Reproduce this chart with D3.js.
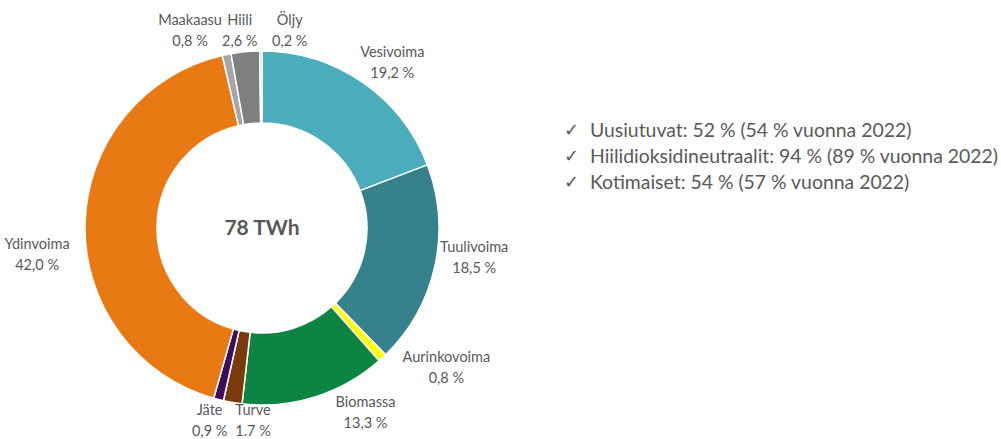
<!DOCTYPE html>
<html>
<head>
<meta charset="utf-8">
<script src="https://cdn.jsdelivr.net/npm/d3@7"></script>
<style>
  body { margin: 0; background: #fff; }
  text { font-family: Lato, "Open Sans", sans-serif; fill: #595959; }
</style>
</head>
<body>
<div id="chart"></div>
<script>
// energy sources, clockwise from top
var sources = ["Vesivoima", "Tuulivoima", "Aurinkovoima", "Biomassa", "Turve", "Jäte", "Ydinvoima", "Maakaasu", "Hiili", "Öljy"];
var shares = [19.2, 18.5, 0.8, 13.3, 1.7, 0.9, 42.0, 0.8, 2.6, 0.2];
// percent labels as printed (Turve uses a point in the original)
var shareLabels = ["19,2 %", "18,5 %", "0,8 %", "13,3 %", "1.7 %", "0,9 %", "42,0 %", "0,8 %", "2,6 %", "0,2 %"];
var colors = ["#4bacbb", "#35818c", "#ffff00", "#0e8444", "#7b3a0c", "#3f0d5a", "#e97912", "#a6a6a6", "#7f7f7f", "#bfbfbf"];
var total = "78 TWh";
var notes = [
    "Uusiutuvat: 52 % (54 % vuonna 2022)",
    "Hiilidioksidineutraalit: 94 % (89 % vuonna 2022)",
    "Kotimaiset: 54 % (57 % vuonna 2022)"
];

// label nudges from the centroid of the label ring (labels were hand placed)
var nudge = [[14,2],[12,-16],[45,-12],[42,-13],[25,-11],[-2,-8],[-20,30],[-31,2],[-3,5],[29,6]];

var width = 1001, height = 439;
var cx = 262, cy = 228;
var outerR = 177, innerR = 105, labelR = 205;

var svg = d3.select("#chart").append("svg")
    .attr("width", width)
    .attr("height", height);

var pie = d3.pie().sort(null).value(function(d){ return d; });
var arcs = pie(shares);

var arc = d3.arc().innerRadius(innerR).outerRadius(outerR);
var labelArc = d3.arc().innerRadius(labelR).outerRadius(labelR);

var g = svg.append("g").attr("transform", "translate(" + cx + "," + cy + ")");

g.selectAll(".slice")
    .data(arcs)
    .enter().append("path")
    .attr("class", "slice")
    .attr("d", arc)
    .attr("fill", function(d, i){ return colors[i]; })
    .attr("stroke", "#fff")
    .attr("stroke-width", 1.5);

var lab = g.selectAll(".lab")
    .data(arcs)
    .enter().append("text")
    .attr("class", "lab")
    .attr("text-anchor", "middle")
    .attr("font-size", 14.5)
    .attr("transform", function(d, i){
        var c = labelArc.centroid(d);
        return "translate(" + (c[0] + nudge[i][0]) + "," + (c[1] + nudge[i][1]) + ")";
    });
lab.append("tspan").attr("x", 0).attr("y", -4).text(function(d, i){ return sources[i]; });
lab.append("tspan").attr("x", 0).attr("y", 17).text(function(d, i){ return shareLabels[i]; });

g.append("text")
    .attr("text-anchor", "middle")
    .attr("dy", "0.35em")
    .attr("font-size", 21)
    .attr("font-weight", "bold")
    .text(total);

var y = d3.scalePoint().domain(d3.range(notes.length)).range([130, 182]);
var note = svg.selectAll(".note")
    .data(notes)
    .enter().append("g")
    .attr("class", "note")
    .attr("transform", function(d, i){ return "translate(564," + y(i) + ")"; });
note.append("text")
    .attr("dy", "0.35em")
    .attr("font-size", 18)
    .style("font-family", "DejaVu Sans")
    .text("\u2713");
note.append("text")
    .attr("x", 26)
    .attr("dy", "0.35em")
    .attr("font-size", 19.4)
    .text(function(d){ return d; });
</script>
</body>
</html>
